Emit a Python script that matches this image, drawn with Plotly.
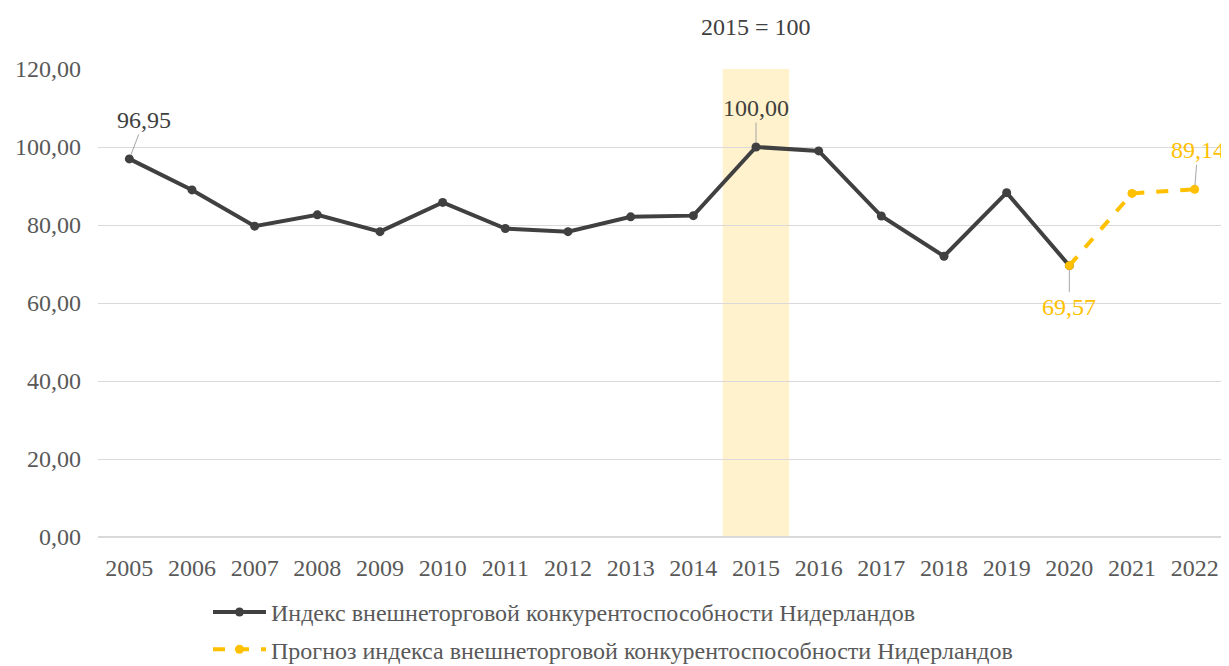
import plotly.graph_objects as go

years = [str(y) for y in range(2005, 2023)]
index_years = years[:16]
index_values = [96.95, 89.0, 79.7, 82.6, 78.3, 85.8, 79.1, 78.3, 82.1, 82.4,
                100.00, 99.0, 82.3, 72.0, 88.3, 69.57]
forecast_years = ["2020", "2021", "2022"]
forecast_values = [69.57, 88.1, 89.14]

name_index = "Индекс внешнеторговой конкурентоспособности Нидерландов"
name_forecast = "Прогноз индекса внешнеторговой конкурентоспособности Нидерландов"

FONT = "Liberation Serif, Times New Roman, serif"
DARK = "#404040"
GOLD = "#FFC000"

pos = {y: i for i, y in enumerate(years)}

fig = go.Figure()
fig.add_trace(go.Scatter(
    x=[pos[y] for y in index_years], y=index_values, name=name_index, mode="lines+markers",
    line=dict(color=DARK, width=4), marker=dict(color=DARK, size=9),
    legend="legend"))
fig.add_trace(go.Scatter(
    x=[pos[y] for y in forecast_years], y=forecast_values, name=name_forecast,
    mode="lines+markers",
    line=dict(color=GOLD, width=4, dash="dash"), marker=dict(color=GOLD, size=9),
    legend="legend2"))

# highlight band for base year 2015
base_idx = pos["2015"]
fig.add_shape(type="rect", xref="x", yref="y", x0=base_idx - 0.53, x1=base_idx + 0.53,
              y0=-0.5, y1=120, fillcolor="#FFF2CC", line=dict(width=0), layer="below")

def label(yr, y, text, color, ax, ay):
    fig.add_annotation(x=pos[yr], y=y, text=text, showarrow=True, arrowhead=0,
                       arrowwidth=1, arrowcolor="#a6a6a6", ax=ax, ay=ay,
                       standoff=4, font=dict(family=FONT, size=24, color=color))

label("2005", index_values[0], "96,95", DARK, 15, -39)
label("2015", index_values[10], "100,00", DARK, 0, -39)
label("2020", forecast_values[0], "69,57", GOLD, 0, 41)
label("2022", forecast_values[-1], "89,14", GOLD, 3, -39)

fig.add_annotation(text="2015 = 100", xref="paper", yref="paper",
                   x=(756 - 98) / 1128, y=(537 - 27) / 468, showarrow=False,
                   xanchor="center", yanchor="middle",
                   font=dict(family=FONT, size=24, color="#404040"))

fig.update_layout(
    width=1221, height=658,
    margin=dict(l=90, r=3, t=61, b=129, autoexpand=False),
    paper_bgcolor="white", plot_bgcolor="white",
    separators=", ",
    font=dict(family=FONT, size=24, color="#595959"),
    showlegend=True,
    legend=dict(x=0.0975, y=-0.113, xanchor="left", yanchor="top", itemwidth=53,
                font=dict(family=FONT, size=24, color="#595959"),
                bgcolor="rgba(0,0,0,0)"),
    legend2=dict(x=0.0975, y=-0.1926, xanchor="left", yanchor="top", itemwidth=53,
                 font=dict(family=FONT, size=24, color="#595959"),
                 bgcolor="rgba(0,0,0,0)"),
    xaxis=dict(range=[-0.5, len(years) - 0.5], tickmode="array",
               tickvals=list(range(len(years))), ticktext=years,
               showgrid=False, showline=False, zeroline=False,
               ticks="", ticklabelstandoff=14, automargin=False,
               tickfont=dict(family=FONT, size=24, color="#595959")),
    yaxis=dict(range=[0, 120], dtick=20, tickformat=".2f",
               showgrid=True, gridcolor="#d9d9d9", gridwidth=1,
               zeroline=True, zerolinecolor="#d9d9d9", zerolinewidth=2,
               showline=False, ticks="", ticklabelstandoff=16, automargin=False,
               tickfont=dict(family=FONT, size=24, color="#595959")),
)

fig.write_html("out.html")
